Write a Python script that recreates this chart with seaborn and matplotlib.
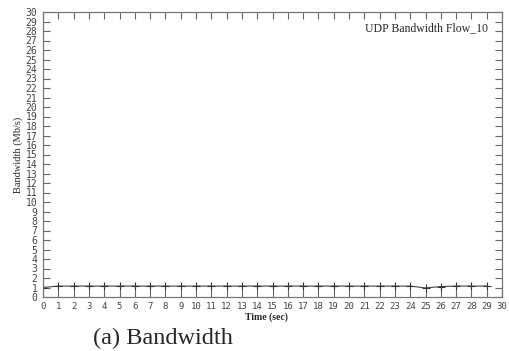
import numpy as np
import pandas as pd
import seaborn as sns
import matplotlib.pyplot as plt

# UDP bandwidth of flow 10, sampled once per second
time_sec = list(range(0, 30))
bandwidth = [1.0] + [1.15] * 24 + [0.95, 1.1, 1.15, 1.15, 1.15]

df = pd.DataFrame({"Time (sec)": time_sec, "Bandwidth (Mb/s)": bandwidth})

sns.set_style("white")
fig = plt.figure(figsize=(5.1, 3.51), dpi=100)
ax = fig.add_axes([43 / 510, 1 - 297 / 351, (502 - 43) / 510, (297 - 12) / 351])

sns.lineplot(data=df, x="Time (sec)", y="Bandwidth (Mb/s)", ax=ax,
             color="#444444", linewidth=0.8, marker="+", markersize=6,
             markeredgewidth=0.8, markeredgecolor="#333333")

ax.set_xlim(0, 30)
ax.set_ylim(0, 30)
ticks = np.arange(0, 31)
ax.set_xticks(ticks)
ax.set_yticks(ticks)
ax.set_xticklabels([str(t) for t in ticks], family="DejaVu Sans Mono",
                   fontsize=6.5, color="#444444")
ax.set_yticklabels([str(t) for t in ticks], family="DejaVu Sans Mono",
                   fontsize=7.0, color="#444444")
ax.tick_params(direction="in", length=5, width=0.8, color="#666666",
               top=True, right=True, bottom=True, left=True, pad=4)
ax.tick_params(axis="x", pad=3.5)

for s in ax.spines.values():
    s.set_color("#777777")
    s.set_linewidth(0.9)

ax.set_xlabel("")
fig.text(266 / 510, 1 - 317 / 351, "Time (sec)", family="Liberation Serif",
         fontsize=7, fontweight="bold", ha="center", va="center")
ax.set_ylabel("Bandwidth (Mb/s)", family="Liberation Serif", fontsize=7.5,
              labelpad=2)
ax.text(0.97, 0.965, "UDP Bandwidth Flow_10", transform=ax.transAxes,
        ha="right", va="top", family="Liberation Serif", fontsize=8.5)

fig.text(93 / 510, 1 - 338 / 351, "(a) Bandwidth", family="Liberation Serif",
         fontsize=17.5, ha="left", va="center")

fig.savefig("out.png", dpi=100)
